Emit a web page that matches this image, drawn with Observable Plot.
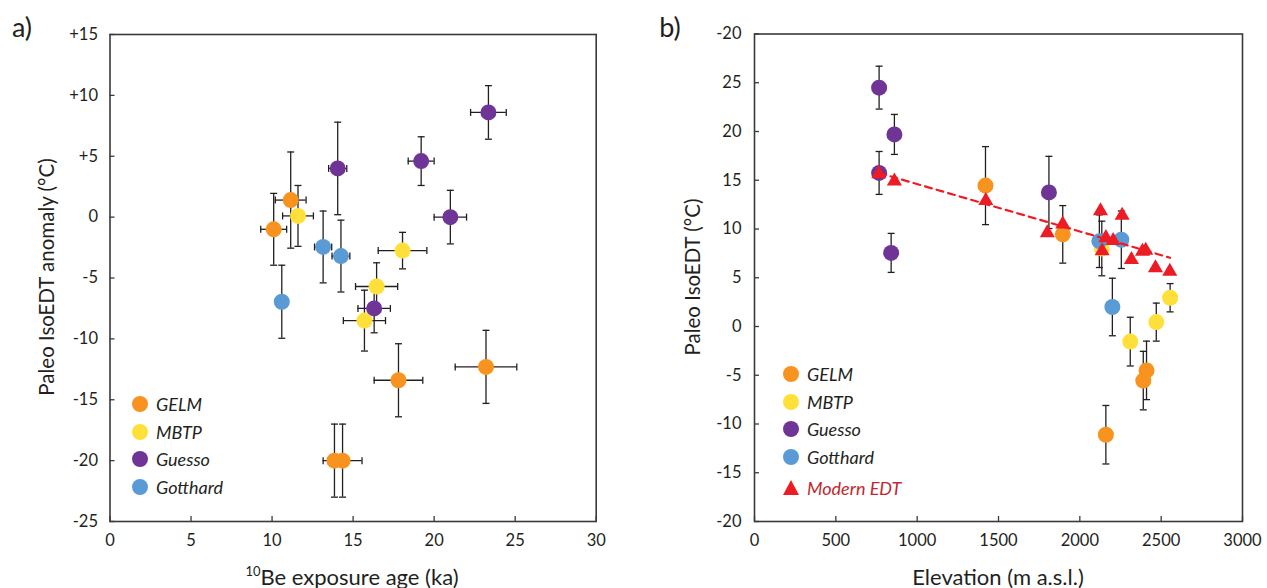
<!DOCTYPE html>
<html>
<head>
<meta charset="utf-8">
<script src="https://cdn.jsdelivr.net/npm/d3@7"></script>
<script src="https://cdn.jsdelivr.net/npm/@observablehq/plot@0.6"></script>
<style>
  html, body { margin: 0; padding: 0; background: #fff; }
  #wrap { position: relative; width: 1267px; height: 588px; overflow: hidden; font-family: Lato, "Open Sans", sans-serif; color: #231f20; }
  .abs { position: absolute; white-space: nowrap; }
  .plot { position: absolute; top: 0; }
  .ctr { transform: translate(-50%, -50%); }
  .rot { transform: translate(-50%, -50%) rotate(-90deg); }
  .ytitle { font-size: 20.5px; }
  .xtitle { font-size: 22px; }
  .panel { font-size: 27px; }
  .leg { font-size: 18px; font-style: italic; transform: translateY(-50%); }
  .sw { position: absolute; width: 16px; height: 16px; border-radius: 50%; transform: translate(-50%, -50%); }
</style>
</head>
<body>
<div id="wrap"></div>
<script>
// ---------- shared ----------
const groups = ["GELM", "MBTP", "Guesso", "Gotthard"];
const groupColors = ["#F7931E", "#FFE03B", "#6F3596", "#5B9BD5"];
const modernLabel = "Modern EDT";

// ---------- panel a: anomaly vs exposure age ----------
const groupA   = ["GELM","GELM","GELM","GELM","GELM","GELM","MBTP","MBTP","MBTP","MBTP","Guesso","Guesso","Guesso","Guesso","Guesso","Gotthard","Gotthard","Gotthard"];
const ageA     = [10.1, 11.15, 17.8, 23.2, 13.85, 14.35, 11.6, 18.05, 16.45, 15.7, 14.05, 19.2, 21.0, 23.35, 16.3, 10.6, 13.15, 14.25];
const ageErrA  = [0.8, 0.95, 1.5, 1.9, 0.4, 1.2, 0.95, 1.5, 1.3, 1.3, 0.56, 0.8, 1.0, 1.1, 1.0, 0, 0.53, 0.55];
const anomA    = [-1.0, 1.4, -13.4, -12.3, -20.0, -20.0, 0.1, -2.75, -5.7, -8.5, 4.0, 4.6, 0.0, 8.6, -7.5, -6.95, -2.45, -3.2];
const anomErrA = [2.95, 3.95, 3.0, 3.0, 3.0, 3.0, 2.5, 1.5, 1.95, 2.5, 3.8, 2.0, 2.2, 2.2, 2.0, 3.0, 2.95, 2.95];
const xTicksA  = [0, 5, 10, 15, 20, 25, 30];
const yTicksA  = [-25, -20, -15, -10, -5, 0, 5, 10, 15];
const yLabelsA = ["-25", "-20", "-15", "-10", "-5", "0", "+5", "+10", "+15"];

// ---------- panel b: paleo IsoEDT vs elevation ----------
const groupB   = ["GELM","GELM","GELM","GELM","GELM","MBTP","MBTP","MBTP","MBTP","Guesso","Guesso","Guesso","Guesso","Guesso","Gotthard","Gotthard","Gotthard"];
const elevB    = [1420, 1895, 2410, 2390, 2160, 2135, 2310, 2470, 2555, 766, 860, 766, 840, 1810, 2120, 2255, 2200];
const edtB     = [14.45, 9.45, -4.5, -5.55, -11.1, 8.0, -1.55, 0.45, 2.95, 24.5, 19.7, 15.75, 7.55, 13.75, 8.75, 8.9, 2.0];
const edtErrB  = [4.0, 2.95, 3.0, 3.0, 3.0, 2.8, 2.5, 1.95, 1.45, 2.2, 2.05, 2.2, 2.0, 3.7, 2.7, 2.95, 2.95];
const modernElev = [764, 860, 1422, 1800, 1895, 2127, 2137, 2160, 2205, 2260, 2317, 2385, 2405, 2465, 2553];
const modernEDT  = [15.65, 14.9, 12.9, 9.6, 10.5, 11.85, 7.75, 9.1, 8.8, 11.4, 6.85, 7.7, 7.8, 6.0, 5.65];
const trendElev  = [765, 2555];
const trendEDT   = [15.75, 7.05];
const xTicksB  = [0, 500, 1000, 1500, 2000, 2500, 3000];
const yTicksB  = [-20, -15, -10, -5, 0, 5, 10, 15, 20, 25, 30];
const yLabelsB = ["-20", "-15", "-10", "-5", "0", "5", "10", "15", "20", "25", "-20"];

// ---------- build tables ----------
const dataA = groupA.map((g, i) => ({g, x: ageA[i], xe: ageErrA[i], y: anomA[i], ye: anomErrA[i]}));
const dataB = groupB.map((g, i) => ({g, x: elevB[i], y: edtB[i], ye: edtErrB[i]}));
const modern = modernElev.map((x, i) => ({x, y: modernEDT[i]}));
const trend = trendElev.map((x, i) => ({x, y: trendEDT[i]}));

const INK = "#231f20";
const AXIS = "#3a3a3a";
const capH = {draw(ctx) { ctx.moveTo(-3.5, 0); ctx.lineTo(3.5, 0); }};
const capV = {draw(ctx) { ctx.moveTo(0, -3.5); ctx.lineTo(0, 3.5); }};
const color = {domain: groups, range: groupColors};
const style = {fontFamily: "Lato, 'Open Sans', sans-serif", fontSize: "16.5px", color: INK, background: "transparent", overflow: "visible"};

function vErr(data) {
  return [
    Plot.ruleX(data, {x: "x", y1: d => d.y - d.ye, y2: d => d.y + d.ye, stroke: INK, strokeWidth: 1.3}),
    Plot.dot(data, {x: "x", y: d => d.y - d.ye, symbol: capH, fill: "none", stroke: INK, strokeWidth: 1.3}),
    Plot.dot(data, {x: "x", y: d => d.y + d.ye, symbol: capH, fill: "none", stroke: INK, strokeWidth: 1.3})
  ];
}
function hErr(data) {
  const d2 = data.filter(d => d.xe > 0);
  return [
    Plot.ruleY(d2, {y: "y", x1: d => d.x - d.xe, x2: d => d.x + d.xe, stroke: INK, strokeWidth: 1.3}),
    Plot.dot(d2, {x: d => d.x - d.xe, y: "y", symbol: capV, fill: "none", stroke: INK, strokeWidth: 1.3}),
    Plot.dot(d2, {x: d => d.x + d.xe, y: "y", symbol: capV, fill: "none", stroke: INK, strokeWidth: 1.3})
  ];
}

const plotA = Plot.plot({
  width: 620, height: 588,
  marginLeft: 109.5, marginRight: 24.3, marginTop: 34, marginBottom: 67,
  style,
  x: {domain: [0, 30]},
  y: {domain: [-25, 15]},
  color,
  marks: [
    Plot.frame({stroke: AXIS, strokeWidth: 1.6}),
    Plot.axisX({ticks: xTicksA, tickSize: -5, tickPadding: 18, stroke: AXIS, strokeWidth: 1.3, label: null, fill: INK}),
    Plot.axisY({ticks: yTicksA, tickSize: -5, tickPadding: 17, stroke: AXIS, strokeWidth: 1.3, label: null, fill: INK,
                tickFormat: d => yLabelsA[yTicksA.indexOf(d)]}),
    ...hErr(dataA),
    ...vErr(dataA),
    Plot.dot(dataA, {x: "x", y: "y", fill: "g", r: 8})
  ]
});

const plotB = Plot.plot({
  width: 627, height: 588,
  marginLeft: 114, marginRight: 25, marginTop: 33.5, marginBottom: 67,
  style,
  x: {domain: [0, 3000]},
  y: {domain: [-20, 30]},
  color,
  marks: [
    Plot.frame({stroke: AXIS, strokeWidth: 1.6}),
    Plot.axisX({ticks: xTicksB, tickSize: -5, tickPadding: 18, stroke: AXIS, strokeWidth: 1.3, label: null, fill: INK, tickFormat: d => String(d)}),
    Plot.axisY({ticks: yTicksB, tickSize: -5, tickPadding: 18, stroke: AXIS, strokeWidth: 1.3, label: null, fill: INK,
                tickFormat: d => yLabelsB[yTicksB.indexOf(d)]}),
    ...vErr(dataB),
    Plot.dot(dataB, {x: "x", y: "y", fill: "g", r: 8}),
    Plot.line(trend, {x: "x", y: "y", stroke: "#ED1C24", strokeWidth: 2.2, strokeDasharray: "7,5"}),
    Plot.dot(modern, {x: "x", y: "y", symbol: "triangle", fill: "#ED1C24", r: 5.6})
  ]
});

const wrap = document.getElementById("wrap");
plotA.classList.add("plot"); plotA.style.left = "0px";
plotB.classList.add("plot"); plotB.style.left = "640px";
wrap.appendChild(plotA);
wrap.appendChild(plotB);

function addText(html, x, y, cls) {
  const el = document.createElement("div");
  el.className = "abs " + cls;
  el.style.left = x + "px"; el.style.top = y + "px";
  el.innerHTML = html;
  wrap.appendChild(el);
  return el;
}
addText("a)", 22, 26, "panel ctr");
addText("b)", 670, 26, "panel ctr");
addText("Paleo IsoEDT anomaly (°C)", 46, 277, "ytitle rot");
addText("Paleo IsoEDT (°C)", 692, 277, "ytitle rot");
addText("<sup style='font-size:13px'>10</sup>Be exposure age (ka)", 352, 576, "xtitle ctr");
addText("Elevation (m a.s.l.)", 998, 576, "xtitle ctr");

function legend(cx, tx, ys, withModern) {
  groups.forEach((g, i) => {
    const sw = document.createElement("div");
    sw.className = "sw";
    sw.style.left = cx + "px"; sw.style.top = ys[i] + "px";
    sw.style.background = groupColors[i];
    wrap.appendChild(sw);
    addText(g, tx, ys[i], "leg");
  });
  if (withModern) {
    const y = ys[groups.length];
    const tri = document.createElement("div");
    tri.style.cssText = `position:absolute;left:${cx - 8}px;top:${y - 8}px;width:0;height:0;border-left:8px solid transparent;border-right:8px solid transparent;border-bottom:15px solid #ED1C24;`;
    wrap.appendChild(tri);
    const t = addText(modernLabel, tx, y, "leg");
    t.style.color = "#C1272D";
  }
}
legend(140, 156, [404, 432, 459, 487], false);
legend(791, 807, [374, 402, 429, 457, 488], true);
</script>
</body>
</html>
